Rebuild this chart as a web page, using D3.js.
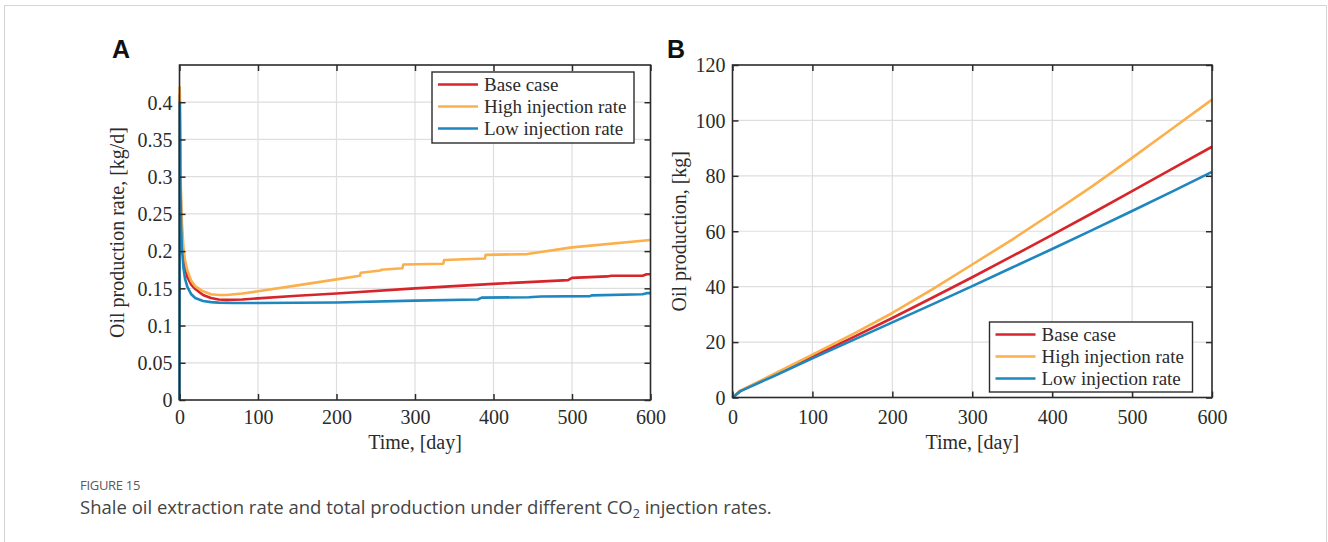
<!DOCTYPE html>
<html><head><meta charset="utf-8">
<script src="https://cdn.jsdelivr.net/npm/d3@7/dist/d3.min.js"></script>
<style>body{margin:0;background:#fff}svg{display:block}</style>
</head><body><div id="chart"></div>
<script>
// ---------------- data ----------------
const seriesNames = ["Base case", "High injection rate", "Low injection rate"];
const seriesColors = ["#d7262b", "#fbb04c", "#1f87bf"];

// Panel A: oil production rate [kg/d]
const baseRateT = [0,0.3,1,2,3,5,7,10,15,20,30,40,50,60,80,100,150,200,300,400,495,500,545,550,590,595,600];
const baseRateV = [0,0.41,0.31,0.255,0.225,0.195,0.178,0.165,0.155,0.149,0.141,0.137,0.135,0.1345,0.135,0.1365,0.140,0.143,0.150,0.156,0.161,0.164,0.166,0.167,0.167,0.169,0.169];
const highRateT = [0,0.3,1,2,3,5,7,10,15,20,30,40,50,60,80,100,150,200,230,231,256,257,284,285,336,337,389,390,443,500,600];
const highRateV = [0,0.42,0.33,0.27,0.24,0.205,0.188,0.174,0.160,0.153,0.146,0.142,0.141,0.141,0.143,0.146,0.154,0.162,0.167,0.171,0.174,0.175,0.177,0.182,0.183,0.188,0.190,0.195,0.196,0.205,0.215];
const lowRateT = [0,0.3,1,2,3,5,7,10,15,20,30,40,50,70,100,200,300,380,385,445,460,523,525,590,595,600];
const lowRateV = [0,0.40,0.29,0.235,0.205,0.178,0.163,0.152,0.142,0.137,0.133,0.1315,0.1308,0.1303,0.1302,0.131,0.1335,0.135,0.1375,0.138,0.139,0.1395,0.1405,0.142,0.1435,0.1435];

// Panel B: cumulative oil production [kg]
const cumT = [0,10,50,100,150,200,250,300,350,400,450,500,550,600];
const baseCumV = [0,2.4,7.9,14.7,21.6,28.7,36.0,43.4,51.0,58.7,66.5,74.5,82.5,90.5];
const highCumV = [0,2.5,8.2,15.5,22.8,30.5,39.0,48.0,57.0,66.5,76.2,86.5,97.0,107.5];
const lowCumV  = [0,2.3,7.5,14.1,20.6,27.1,33.6,40.2,46.9,53.6,60.4,67.3,74.3,81.4];

const xTicks = [0,100,200,300,400,500,600];
const yTicksA = [0,0.05,0.1,0.15,0.2,0.25,0.3,0.35,0.4];
const yTickLabelsA = ["0","0.05","0.1","0.15","0.2","0.25","0.3","0.35","0.4"];
const yTicksB = [0,20,40,60,80,100,120];

// ---------------- drawing ----------------
const W = 1328, H = 542;
const svg = d3.select("#chart").append("svg").attr("width", W).attr("height", H);
svg.append("rect").attr("width", W).attr("height", H).attr("fill", "#fff");
// card border
svg.append("rect").attr("x", 4.5).attr("y", 5.5).attr("width", 1322).attr("height", 700)
  .attr("fill", "none").attr("stroke", "#d4d4d4").attr("stroke-width", 1);

const serif = "'Liberation Serif','Times New Roman',serif";
const ink = "#2b2b2b";

function panel(o) {
  const x = d3.scaleLinear().domain([0, 600]).range([o.x0, o.x1]);
  const y = d3.scaleLinear().domain(o.yDomain).range([o.y1, o.y0]);
  const g = svg.append("g");
  // grid
  g.append("g").selectAll("line").data(xTicks.slice(1, -1)).join("line")
    .attr("x1", d => x(d)).attr("x2", d => x(d)).attr("y1", o.y0).attr("y2", o.y1)
    .attr("stroke", "#dedede").attr("stroke-width", 1.2);
  g.append("g").selectAll("line").data(o.yTicks.filter(d => d > o.yDomain[0] && d < o.yDomain[1])).join("line")
    .attr("x1", o.x0).attr("x2", o.x1).attr("y1", d => y(d)).attr("y2", d => y(d))
    .attr("stroke", "#dedede").attr("stroke-width", 1.2);

  // lines
  const line = d3.line().x(d => x(d[0])).y(d => y(d[1]));
  const plotG = g.append("g");
  o.series.forEach((s) => {
    const pts = s.t.map((t, k) => [t, s.v[k]]);
    plotG.append("path").datum(pts).attr("d", line).attr("fill", "none")
      .attr("stroke", s.color).attr("stroke-width", 2.6).attr("stroke-linejoin", "round");
  });

  // axes with inward ticks (box on all sides)
  const fmt = o.yLabels ? (d, i) => o.yLabels[i] : d3.format("d");
  const ax = d3.axisBottom(x).tickValues(xTicks).tickSize(-6).tickPadding(o.xPad).tickFormat(d3.format("d"));
  const ay = d3.axisLeft(y).tickValues(o.yTicks).tickSize(-6).tickPadding(7).tickFormat(fmt);
  const axT = d3.axisTop(x).tickValues(xTicks).tickSize(-6).tickFormat("");
  const ayR = d3.axisRight(y).tickValues(o.yTicks).tickSize(-6).tickFormat("");
  const gx = g.append("g").attr("transform", `translate(0,${o.y1})`).call(ax);
  const gy = g.append("g").attr("transform", `translate(${o.x0},0)`).call(ay);
  const gt = g.append("g").attr("transform", `translate(0,${o.y0})`).call(axT);
  const gr = g.append("g").attr("transform", `translate(${o.x1},0)`).call(ayR);
  [gx, gy, gt, gr].forEach(a => {
    a.select(".domain").remove();
    a.selectAll(".tick line").attr("stroke", ink).attr("stroke-width", 1.5);
    a.selectAll("text").attr("font-family", serif).attr("font-size", 20).attr("fill", ink);
  });
  gx.selectAll("text").attr("dy", "0.71em");
  gy.selectAll("text").attr("dy", "0.34em");
  // box
  g.append("rect").attr("x", o.x0).attr("y", o.y0).attr("width", o.x1 - o.x0).attr("height", o.y1 - o.y0)
    .attr("fill", "none").attr("stroke", ink).attr("stroke-width", 1.6);

  // labels
  g.append("text").attr("x", (o.x0 + o.x1) / 2).attr("y", 449).attr("text-anchor", "middle")
    .attr("font-family", serif).attr("font-size", 20).attr("fill", ink).text("Time, [day]");
  g.append("text").attr("transform", `translate(${o.ylabX},${(o.y0 + o.y1) / 2}) rotate(-90)`)
    .attr("text-anchor", "middle").attr("dy", "0.35em")
    .attr("font-family", serif).attr("font-size", 20).attr("fill", ink).text(o.ylabel);
  g.append("text").attr("x", o.tagX).attr("y", 58).attr("font-family", "Arial, 'Liberation Sans', sans-serif")
    .attr("font-weight", "bold").attr("font-size", 25).attr("fill", "#111").text(o.tag);

  // legend
  const L = o.legend;
  g.append("rect").attr("x", L.x).attr("y", L.y).attr("width", L.w).attr("height", L.h)
    .attr("fill", "#fff").attr("stroke", ink).attr("stroke-width", 1.4);
  const lg = g.append("g").selectAll("g").data(o.series).join("g")
    .attr("transform", (d, i) => `translate(${L.x},${L.y + 12.5 + i * 22})`);
  lg.append("line").attr("x1", 6).attr("x2", 46).attr("y1", 0).attr("y2", 0)
    .attr("stroke", d => d.color).attr("stroke-width", 2.6);
  lg.append("text").attr("x", 52).attr("dy", "0.33em").attr("font-family", serif)
    .attr("font-size", 19).attr("fill", ink).text(d => d.name);
}

panel({
  x0: 179.5, x1: 650.5, y0: 65, y1: 400, yDomain: [0, 0.45], yTicks: yTicksA, yLabels: yTickLabelsA,
  ylabel: "Oil production rate, [kg/d]", ylabX: 117, tag: "A", tagX: 112, xPad: 10,
  legend: { x: 432, y: 72, w: 202, h: 71 },
  series: [
    { name: seriesNames[0], color: seriesColors[0], t: baseRateT, v: baseRateV },
    { name: seriesNames[1], color: seriesColors[1], t: highRateT, v: highRateV },
    { name: seriesNames[2], color: seriesColors[2], t: lowRateT, v: lowRateV }
  ]
});
panel({
  x0: 732.5, x1: 1212, y0: 65, y1: 397.5, yDomain: [0, 120], yTicks: yTicksB, yLabels: null,
  ylabel: "Oil production, [kg]", ylabX: 679, tag: "B", tagX: 667, xPad: 12,
  legend: { x: 989.5, y: 322, w: 203, h: 70 },
  series: [
    { name: seriesNames[0], color: seriesColors[0], t: cumT, v: baseCumV },
    { name: seriesNames[1], color: seriesColors[1], t: cumT, v: highCumV },
    { name: seriesNames[2], color: seriesColors[2], t: cumT, v: lowCumV }
  ]
});

// caption
svg.append("text").attr("x", 80).attr("y", 490).attr("font-family", "'Open Sans', 'Noto Sans', sans-serif")
  .attr("font-size", 13).attr("fill", "#5a5a5a").attr("letter-spacing", "-0.3").text("FIGURE 15");
const cap = svg.append("text").attr("x", 80).attr("y", 514).attr("font-family", "'Open Sans', 'Noto Sans', sans-serif")
  .attr("font-size", 18.5).attr("fill", "#444");
cap.append("tspan").text("Shale oil extraction rate and total production under different CO");
cap.append("tspan").attr("font-size", 12.5).attr("dy", 4).text("2");
cap.append("tspan").attr("dy", -4).text(" injection rates.");
</script></body></html>
